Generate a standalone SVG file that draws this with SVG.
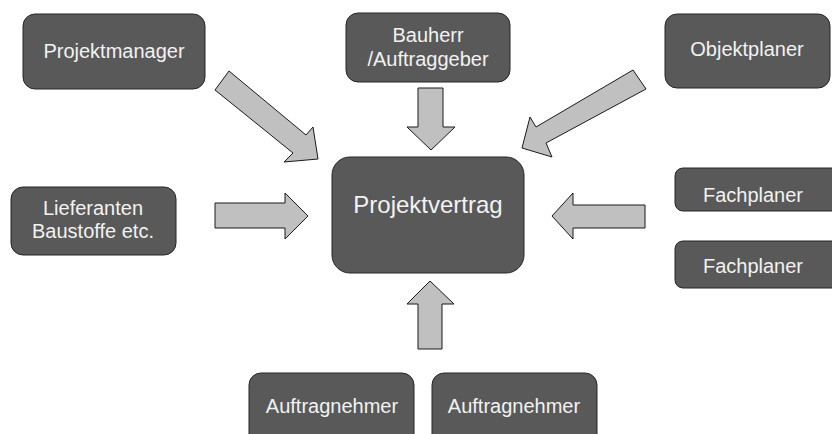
<svg xmlns="http://www.w3.org/2000/svg" width="832" height="434" viewBox="0 0 832 434">
<style>
.box{fill:#595959;stroke:#262626;stroke-width:1}
.lbl{font-family:"Liberation Sans",Arial,sans-serif;font-size:20px;fill:#f2f2f2;text-anchor:middle}
.arr{fill:#c0c0c0;stroke:#1a1a1a;stroke-width:1;stroke-linejoin:miter}
</style>
<rect width="832" height="434" fill="#ffffff"/>
<g id="connectors">
<polygon class="arr" points="229,71 306,135 313,127 318,159 284,162 293,153 215,90"/>
<polygon class="arr" points="418,88 443,88 443,127 455,127 431,150 407,127 418,127"/>
<polygon class="arr" points="633,70 536,127 530,117 522,148 552,157 546,143 646,89"/>
<polygon class="arr" points="215,203 285,203 285,193 308,216 285,239 285,228 215,228"/>
<polygon class="arr" points="645,205 573,205 573,193 552,216 573,239 573,228 645,228"/>
<polygon class="arr" points="418,349 418,304 407,304 430,281 454,304 442,304 442,349"/>
</g>
<g id="projektmanager">
<rect class="box" x="23" y="14" width="182" height="75" rx="12"/>
<text class="lbl" x="114" y="58">Projektmanager</text>
</g>
<g id="bauherr">
<rect class="box" x="346" y="13" width="164" height="69" rx="12"/>
<text class="lbl" x="428" y="42">Bauherr</text>
<text class="lbl" x="428" y="66">/Auftraggeber</text>
</g>
<g id="objektplaner">
<rect class="box" x="665" y="14" width="165" height="74" rx="12"/>
<text class="lbl" x="747" y="56">Objektplaner</text>
</g>
<g id="projektvertrag">
<rect class="box" x="332" y="157" width="192" height="116" rx="18"/>
<text class="lbl" x="428" y="213" style="font-size:24px">Projektvertrag</text>
</g>
<g id="lieferanten">
<rect class="box" x="11" y="187" width="165" height="68" rx="12"/>
<text class="lbl" x="93" y="215">Lieferanten</text>
<text class="lbl" x="93" y="238">Baustoffe etc.</text>
</g>
<g id="fachplaner1">
<rect class="box" x="675" y="168" width="170" height="43" rx="8"/>
<text class="lbl" x="753" y="202">Fachplaner</text>
</g>
<g id="fachplaner2">
<rect class="box" x="675" y="241" width="170" height="47" rx="8"/>
<text class="lbl" x="753" y="273">Fachplaner</text>
</g>
<g id="auftragnehmer1">
<rect class="box" x="249" y="373" width="165" height="80" rx="12"/>
<text class="lbl" x="332" y="413">Auftragnehmer</text>
</g>
<g id="auftragnehmer2">
<rect class="box" x="432" y="373" width="165" height="80" rx="12"/>
<text class="lbl" x="514" y="413">Auftragnehmer</text>
</g>
</svg>
